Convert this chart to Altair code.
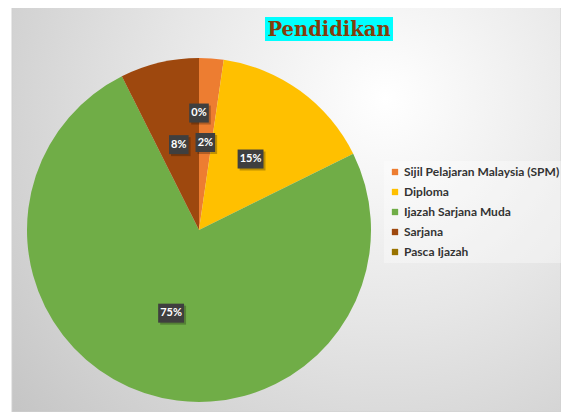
import altair as alt
import pandas as pd

# ---- data ----
categories = ["Sijil Pelajaran Malaysia (SPM)", "Diploma", "Ijazah Sarjana Muda", "Sarjana", "Pasca Ijazah"]
values = [2.3, 15.4, 74.9, 7.4, 0.0]
labels = ["2%", "15%", "75%", "8%", "0%"]
colors = ["#ED7D31", "#FFC000", "#70AD47", "#9E480E", "#997300"]
title_text = ["Pendidikan"]

df = pd.DataFrame({"cat": categories, "value": values, "label": labels,
                   "idx": list(range(len(categories)))})
bg_df = pd.DataFrame({"a": [0]})
title_df = pd.DataFrame({"t": title_text})

W, H = 553, 404
CX, CY, R = 191, 222, 172

# background panel with radial gradient
bg = alt.Chart(bg_df).mark_rect(
    fill=alt.RadialGradient(
        gradient="radial",
        stops=[alt.GradientStop(color="#ffffff", offset=0),
               alt.GradientStop(color="#e6e6e6", offset=0.45),
               alt.GradientStop(color="#c4c4c4", offset=1)],
        x1=0.68, y1=0.3, r1=0, x2=0.68, y2=0.3, r2=0.9),
    stroke="#d0d0d0", strokeWidth=1
).encode(x=alt.value(4), x2=alt.value(W), y=alt.value(-4), y2=alt.value(H))

color_scale = alt.Scale(domain=categories, range=colors)

pie = alt.Chart(df).mark_arc(stroke=None).encode(
    theta=alt.Theta("value:Q", stack=True),
    color=alt.Color("cat:N", scale=color_scale, sort=categories,
                    legend=alt.Legend(
                        title=None, orient="none", legendX=376, legendY=153,
                        symbolType="square", symbolSize=40, symbolStrokeWidth=0,
                        labelFont="Lato", labelFontWeight="bold", labelFontSize=12,
                        labelOffset=3,
                        labelColor="#333333", rowPadding=8, padding=5,
                        fillColor="rgba(255,255,255,0.35)", labelLimit=300)),
    order=alt.Order("idx:Q"),
    x=alt.value(CX), y=alt.value(CY), radius=alt.value(R),
)

base_lbl = alt.Chart(df).transform_joinaggregate(
    total="sum(value)"
).transform_window(
    cum="sum(value)", sort=[alt.SortField("idx")], frame=[None, 0]
).transform_calculate(
    mid="(datum.cum - datum.value/2) / datum.total * 2 * PI",
    lr="datum.value == 0 ? 0.68 : 0.51",
    lx="sin(datum.mid) * datum.lr",
    ly="cos(datum.mid) * datum.lr",
    hw="(length(datum.label) * 6.3 + 7) / 2 / %d" % R,
    hh="9.5 / %d" % R,
    x1="datum.lx - datum.hw", x2="datum.lx + datum.hw",
    y1="datum.ly - datum.hh", y2="datum.ly + datum.hh",
    sx1="datum.x1 + 2/%d" % R, sx2="datum.x2 + 2/%d" % R,
    sy1="datum.y1 - 2/%d" % R, sy2="datum.y2 - 2/%d" % R,
)

xs = alt.Scale(domain=[-1, 1], range=[CX - R, CX + R])
ys = alt.Scale(domain=[-1, 1], range=[CY + R, CY - R])

shadow = base_lbl.mark_rect(color="#000000", opacity=0.25).encode(
    x=alt.X("sx1:Q", scale=xs, axis=None), x2="sx2:Q",
    y=alt.Y("sy1:Q", scale=ys, axis=None), y2="sy2:Q",
)
boxes = base_lbl.mark_rect(color="#3f3f3f").encode(
    x=alt.X("x1:Q", scale=xs, axis=None), x2="x2:Q",
    y=alt.Y("y1:Q", scale=ys, axis=None), y2="y2:Q",
)
texts = base_lbl.mark_text(color="white", font="Lato", fontWeight="bold",
                           fontSize=11, baseline="middle", align="center").encode(
    x=alt.X("lx:Q", scale=xs, axis=None),
    y=alt.Y("ly:Q", scale=ys, axis=None),
    text="label:N",
)

title_box = alt.Chart(title_df).mark_rect(color="#00FFFF").encode(
    x=alt.value(257), x2=alt.value(385), y=alt.value(9), y2=alt.value(33))
title = alt.Chart(title_df).mark_text(
    font="DejaVu Serif", fontWeight="bold", fontSize=19.5, color="#843C0C",
    align="center", baseline="middle").encode(
    x=alt.value(321), y=alt.value(22), text="t:N")

chart = alt.layer(bg, pie, shadow, boxes, texts, title_box, title).resolve_scale(
    color="independent"
).properties(
    width=W, height=H, autosize=alt.AutoSizeParams(type="none"), padding=0,
    background="white"
).configure_view(stroke=None)

chart.save("out.html", embed_options={"renderer": "svg", "actions": False})
